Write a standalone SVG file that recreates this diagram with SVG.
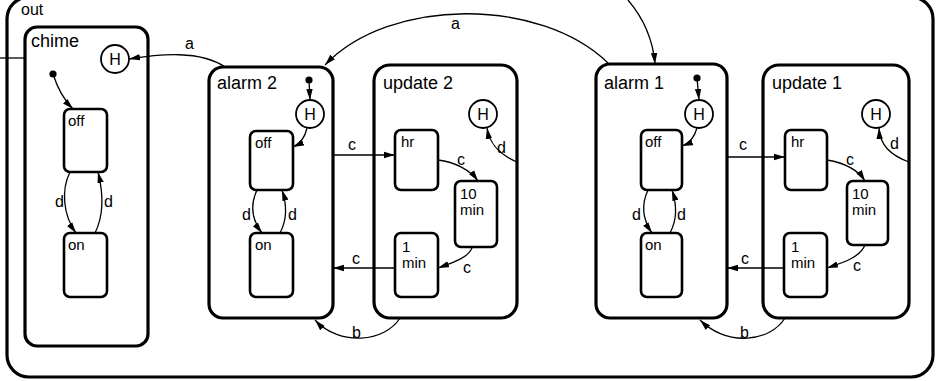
<svg xmlns="http://www.w3.org/2000/svg" width="937" height="381" viewBox="0 0 937 381">
<defs>
<marker id="ah" markerUnits="userSpaceOnUse" markerWidth="12" markerHeight="8" refX="11" refY="4" orient="auto">
<path d="M0,0.8 L11,4 L0,7.2 z" fill="#000"/>
</marker>
</defs>
<style>
.big{fill:none;stroke:#000;stroke-width:3.2}
.st{fill:none;stroke:#000;stroke-width:2.6}
.hc{fill:#fff;stroke:#000;stroke-width:1.8}
.tr{fill:none;stroke:#000;stroke-width:1.3}
.ar{marker-end:url(#ah)}
text{font-family:"Liberation Sans","DejaVu Sans",sans-serif;fill:#000}
.lb{font-size:18px}
.ol{font-size:16px}
.sl{font-size:15px}
.tl{font-size:16px}
.h{font-size:16px;text-anchor:middle}
</style>
<rect width="937" height="381" fill="#fff"/>
<g id="out">
<rect class="big" x="7" y="-3" width="926" height="380" rx="22"/>
<text class="ol" x="21" y="15">out</text>
</g>
<g id="chime">
<rect class="big" x="25" y="27" width="123" height="319" rx="12"/>
<text class="lb" x="31" y="47">chime</text>
</g>
<g id="chime-H"><circle class="hc" cx="115" cy="59" r="14"/><text class="h" x="115" y="65">H</text></g>
<g id="chime-init"><circle cx="53" cy="74" r="3.6" fill="#000"/></g>
<g id="chime-off"><rect class="st" x="64" y="109" width="43" height="63" rx="6"/><text class="sl" x="68" y="126">off</text></g>
<g id="chime-on"><rect class="st" x="64" y="233" width="43" height="64" rx="6"/><text class="sl" x="68" y="250">on</text></g>

<g id="alarm2">
<rect class="big" x="209" y="67" width="124" height="251" rx="14"/>
<text class="lb" x="217" y="89">alarm 2</text>
</g>
<g id="alarm2-init"><circle cx="309" cy="80" r="3.6" fill="#000"/></g>
<g id="alarm2-H"><circle class="hc" cx="310" cy="114" r="14"/><text class="h" x="310" y="120">H</text></g>
<g id="alarm2-off"><rect class="st" x="250" y="131" width="43" height="59" rx="6"/><text class="sl" x="255" y="148">off</text></g>
<g id="alarm2-on"><rect class="st" x="250" y="233" width="43" height="64" rx="6"/><text class="sl" x="255" y="250">on</text></g>

<g id="update2">
<rect class="big" x="374" y="65" width="143" height="253" rx="16"/>
<text class="lb" x="383" y="89">update 2</text>
</g>
<g id="update2-H"><circle class="hc" cx="483" cy="114" r="14"/><text class="h" x="483" y="120">H</text></g>
<g id="update2-hr"><rect class="st" x="395" y="130" width="43" height="60" rx="6"/><text class="sl" x="401" y="147">hr</text></g>
<g id="update2-10min"><rect class="st" x="455" y="181" width="42" height="66" rx="6"/><text class="sl" x="460" y="199">10</text><text class="sl" x="460" y="215">min</text></g>
<g id="update2-1min"><rect class="st" x="395" y="233" width="43" height="64" rx="6"/><text class="sl" x="402" y="252">1</text><text class="sl" x="402" y="268">min</text></g>

<g id="alarm1">
<rect class="big" x="596" y="64" width="131" height="254" rx="14"/>
<text class="lb" x="604" y="89">alarm 1</text>
</g>
<g id="alarm1-init"><circle cx="697" cy="78" r="3.6" fill="#000"/></g>
<g id="alarm1-H"><circle class="hc" cx="699" cy="114" r="14"/><text class="h" x="699" y="120">H</text></g>
<g id="alarm1-off"><rect class="st" x="641" y="130" width="41" height="60" rx="6"/><text class="sl" x="645" y="147">off</text></g>
<g id="alarm1-on"><rect class="st" x="641" y="233" width="41" height="64" rx="6"/><text class="sl" x="645" y="250">on</text></g>

<g id="update1">
<rect class="big" x="763" y="65" width="146" height="253" rx="16"/>
<text class="lb" x="772" y="89">update 1</text>
</g>
<g id="update1-H"><circle class="hc" cx="876" cy="114" r="14"/><text class="h" x="876" y="120">H</text></g>
<g id="update1-hr"><rect class="st" x="785" y="130" width="42" height="60" rx="6"/><text class="sl" x="791" y="147">hr</text></g>
<g id="update1-10min"><rect class="st" x="847" y="181" width="41" height="64" rx="6"/><text class="sl" x="852" y="199">10</text><text class="sl" x="852" y="215">min</text></g>
<g id="update1-1min"><rect class="st" x="784" y="233" width="43" height="64" rx="6"/><text class="sl" x="791" y="252">1</text><text class="sl" x="791" y="268">min</text></g>

<g id="connectors">
<path class="tr" d="M0,58 L25,58"/>
<path class="tr ar" d="M53,74 Q60,96 73,109"/>
<path class="tr ar" d="M70,172 C61,190 63,215 76,233"/>
<path class="tr ar" d="M95,233 C104,215 103,192 98,172"/>
<text class="tl" x="55" y="207">d</text>
<text class="tl" x="104" y="207">d</text>
<path class="tr ar" d="M225,67 C200,50 160,54 129,59"/>
<text class="tl" x="185" y="49">a</text>

<path class="tr ar" d="M309,80 L310,100"/>
<path class="tr ar" d="M307,128 Q304,142 293,147"/>
<path class="tr ar" d="M257,190 C250,205 252,220 262,233"/>
<path class="tr ar" d="M280,233 C287,220 287,205 282,190"/>
<text class="tl" x="242" y="220">d</text>
<text class="tl" x="288" y="220">d</text>

<path class="tr ar" d="M333,155 L395,155"/>
<text class="tl" x="348" y="150">c</text>
<path class="tr ar" d="M438,160 C455,162 470,170 478,181"/>
<text class="tl" x="457" y="165">c</text>
<path class="tr ar" d="M472,248 C468,258 452,263 438,268"/>
<text class="tl" x="463" y="273">c</text>
<path class="tr ar" d="M395,268 L333,268"/>
<text class="tl" x="352" y="264">c</text>
<path class="tr ar" d="M517,162 C500,155 490,145 487,128"/>
<text class="tl" x="497" y="153">d</text>
<path class="tr ar" d="M400,318 C385,342 340,347 315,320"/>
<text class="tl" x="352" y="338">b</text>

<path class="tr ar" d="M608,63 C540,-3 390,-3 325,65"/>
<text class="tl" x="451" y="29">a</text>
<path class="tr ar" d="M628,0 C645,20 653,40 655,64"/>

<path class="tr ar" d="M697,78 L699,100"/>
<path class="tr ar" d="M697,128 Q693,142 682,146"/>
<path class="tr ar" d="M648,190 C641,205 643,220 652,233"/>
<path class="tr ar" d="M670,233 C677,220 677,205 672,190"/>
<text class="tl" x="632" y="220">d</text>
<text class="tl" x="677" y="220">d</text>

<path class="tr ar" d="M727,157 L785,157"/>
<text class="tl" x="739" y="150">c</text>
<path class="tr ar" d="M827,160 C845,163 858,170 865,181"/>
<text class="tl" x="846" y="165">c</text>
<path class="tr ar" d="M865,245 C860,257 845,262 827,268"/>
<text class="tl" x="853" y="271">c</text>
<path class="tr ar" d="M784,268 L727,268"/>
<text class="tl" x="741" y="264">c</text>
<path class="tr ar" d="M909,162 C890,155 880,145 879,128"/>
<text class="tl" x="890" y="149">d</text>
<path class="tr ar" d="M785,318 C770,342 728,347 700,320"/>
<text class="tl" x="740" y="338">b</text>
</g>
</svg>
